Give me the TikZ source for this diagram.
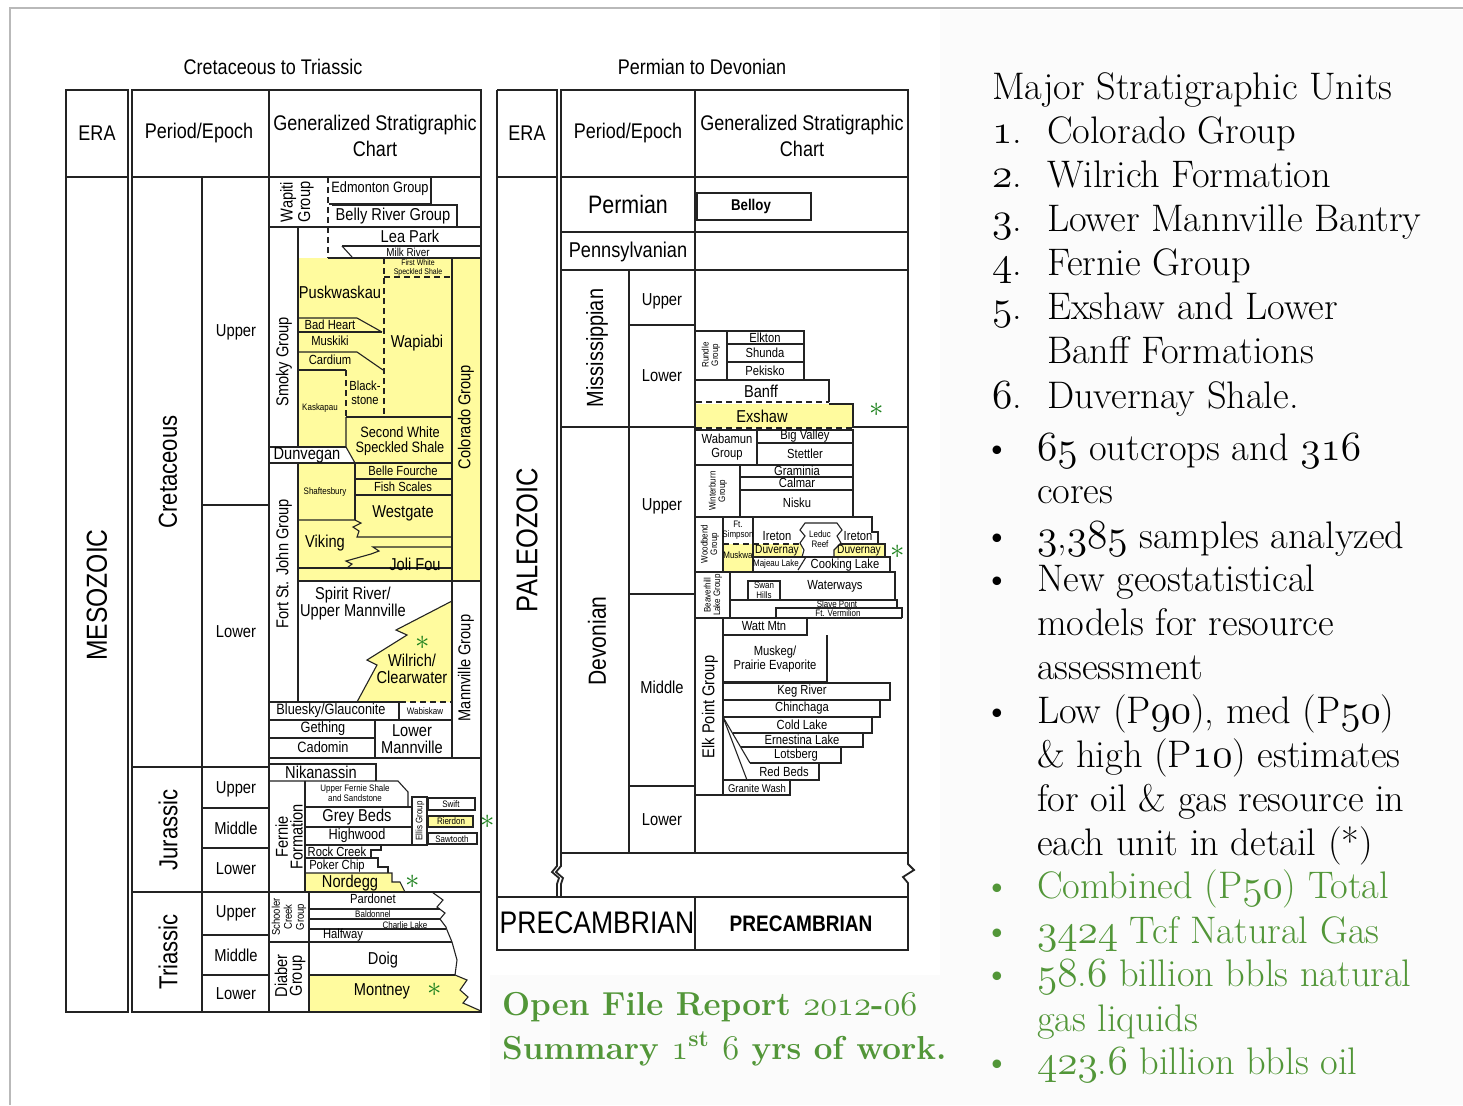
\documentclass[tikz,border=0pt]{standalone}
\usepackage{fontspec}
\newfontfamily\cf[FakeStretch=0.85]{Liberation Sans}
\definecolor{yel}{RGB}{255,251,158}
\definecolor{grn}{RGB}{82,150,56}
\definecolor{astc}{RGB}{30,130,30}
\definecolor{lnc}{RGB}{35,35,35}
\newcommand\osn[1]{{\fontencoding{OML}\fontfamily{lmm}\fontseries{m}\fontshape{it}\selectfont #1}}
\newcommand\osnb[1]{{\fontencoding{OML}\fontfamily{lmm}\fontseries{b}\fontshape{it}\selectfont #1}}
\tikzset{
 every node/.style={inner sep=0pt, outer sep=0pt},
 ln/.style={draw=lnc, line width=0.55pt},
 ob/.style={draw=lnc, line width=0.9pt},
 dsh/.style={draw=lnc, line width=0.6pt, dash pattern=on 3pt off 2pt},
 hdr/.style={font=\cf\fontsize{10.6}{13}\selectfont, align=center},
 erab/.style={font=\cf\fontsize{14.5}{16}\selectfont},
 perd/.style={font=\cf\fontsize{13}{14}\selectfont},
 epo/.style={font=\cf\fontsize{8.65}{10}\selectfont},
 lbl/.style={font=\cf\fontsize{8.6}{8.5}\selectfont, align=center},
 lbltight/.style={font=\cf\fontsize{8.6}{7.4}\selectfont, align=center},
 lblc/.style={font=\cf\fontsize{7.5}{7.6}\selectfont, align=center},
 sml/.style={font=\cf\fontsize{6.6}{6.8}\selectfont, align=center},
 smlb/.style={font=\cf\fontsize{6}{6.2}\selectfont, align=center},
 tny/.style={font=\cf\fontsize{4.7}{4.8}\selectfont, align=center},
 tnyx/.style={font=\cf\fontsize{4.1}{4.2}\selectfont, align=center},
 tnyb/.style={font=\cf\fontsize{5.6}{6}\selectfont, align=center},
 astk/.style={text=astc, font=\fontsize{15}{15}\selectfont},
 rt/.style={font=\fontsize{19.2}{22}\selectfont, anchor=base west},
 gt/.style={font=\fontsize{19.2}{22}\selectfont, anchor=base west, text=grn},
 ofr/.style={anchor=base west, text=grn, font=\bfseries\fontsize{16.6}{20}\selectfont},
}
\begin{document}
\begin{tikzpicture}[x=0.5pt,y=-0.5pt]
\useasboundingbox (0,0) rectangle (1463,1105);
\fill[white] (0,0) rectangle (1463,1105);
\fill[gray!3] (940,10) rectangle (1463,1105);
\fill[gray!3] (490,975) rectangle (940,1105);
\draw[gray!55, line width=0.6pt] (10,1105) -- (10,8) -- (1463,8);

% ================= LEFT CHART =================
\node[hdr] (tL) at (273,67) {Cretaceous to Triassic};
% yellow fills
\fill[yel] (298,258) rectangle (481,581);
\fill[white] (298,447) -- (346,447) -- (355,463) -- (298,463) -- cycle;
\fill[yel] (452,601) -- (396,630) -- (407,635) -- (367,660) -- (377,665) -- (357,702) -- (452,702) -- cycle;
\fill[yel] (305,873) -- (392,873) -- (392,882) -- (400,882) -- (405,892) -- (305,892) -- cycle;
\fill[yel] (309,975) -- (455,975) -- (467,980) -- (460,990) -- (468,997) -- (463,1003) -- (481,1011) -- (309,1011) -- cycle;

\draw[ob] (66,90) rectangle (128,1012);
\draw[ob] (132,90) rectangle (481,1012);
\draw[ln] (66,177) -- (128,177);
\draw[ln] (132,177) -- (481,177);
\draw[ln] (269,90) -- (269,1012);
\draw[ln] (202,177) -- (202,1012);
\draw[ln] (132,767) -- (269,767);
\draw[ln] (132,892) -- (481,892);
\draw[ln] (202,505) -- (269,505);
\draw[ln] (202,808) -- (269,808);
\draw[ln] (202,848) -- (269,848);
\draw[ln] (202,935) -- (269,935);
\draw[ln] (202,975) -- (269,975);
\node[hdr] (eraL) at (97,133) {ERA};
\node[hdr] (peL) at (199,133) {Period/Epoch};
\node[hdr] (gsL) at (375,136) {Generalized Stratigraphic\\Chart};
\node[erab,rotate=90] (meso) at (97,595) {MESOZOIC};
\node[perd,rotate=90] (cret) at (168,472) {Cretaceous};
\node[perd,rotate=90] (jur) at (168,830) {Jurassic};
\node[perd,rotate=90] (tri) at (168,952) {Triassic};
\node[epo] (e1) at (236,332) {Upper};
\node[epo] (e2) at (236,632) {Lower};
\node[epo] (e3) at (236,789) {Upper};
\node[epo] (e4) at (236,828) {Middle};
\node[epo] (e5) at (236,869) {Lower};
\node[epo] (e6) at (236,913) {Upper};
\node[epo] (e7) at (236,955) {Middle};
\node[epo] (e8) at (236,994) {Lower};

% generalized left: upper cretaceous
\draw[ln] (269,227) -- (481,227);
\draw[dsh] (328,177) -- (328,258);
\draw[ln] (329,204) -- (431,204) -- (431,177);
\draw[ln] (332,205) -- (457,205) -- (457,227);
\draw[ln] (298,227) -- (298,447);
\draw[ln] (342,246) -- (481,246);
\draw[ln] (342,246) -- (352,257);
\draw[ln] (328,258) -- (481,258);
\draw[dsh] (384,277) -- (452,277);
\draw[dsh] (384,258) -- (384,417);
\draw[ln] (452,258) -- (452,758);
\draw[ln] (298,318) -- (357,318) -- (382,332);
\draw[ln] (298,332) -- (382,332);
\draw[ln] (298,352) -- (357,352) -- (383,370);
\draw[ln] (298,370) -- (346,370);
\draw[dsh] (346,370) -- (346,417);
\draw[ln] (346,417) -- (452,417);
\draw[ln] (346,417) -- (346,447) -- (355,463);
\draw[ln] (270,447) -- (346,447);
\draw[ln] (270,463) -- (452,463);
\draw[ln] (355,463) -- (355,520);
\draw[ln] (355,479) -- (452,479);
\draw[ln] (355,495) -- (452,495);
\draw[ln] (298,463) -- (298,702);
\draw[ln] (298,520) -- (355,520) -- (361,523) -- (353,527) -- (359,531) -- (357,537) -- (452,537);
\draw[ln] (452,547) -- (373,547) -- (379,551) -- (371,554) -- (346,561) -- (352,564) -- (347,568);
\draw[ln] (298,568) -- (452,568);
\draw[ln] (298,581) -- (481,581);
% lower cretaceous
\draw[ln] (452,601) -- (396,630) -- (407,635) -- (367,660) -- (377,665) -- (357,702);
\draw[ln] (270,702) -- (400,702);
\draw[dsh] (400,702) -- (452,702);
\draw[ln] (399,702) -- (399,720);
\draw[ln] (270,720) -- (452,720);
\draw[ln] (270,738) -- (375,738);
\draw[ln] (375,720) -- (375,758);
\draw[ln] (270,758) -- (481,758);
% jurassic
\draw[ln] (270,764) -- (376,764) -- (376,781);
\draw[ln] (270,781) -- (398,781) -- (408,792) -- (408,807);
\draw[ln] (305,781) -- (305,892);
\draw[ln] (305,807) -- (412,807);
\draw[ln] (305,827) -- (412,827);
\draw[ln] (412,797) rectangle (427,845);
\draw[ln] (305,845) -- (412,845);
\draw[ln] (428,798) rectangle (475,810);
\filldraw[fill=yel, draw=lnc, line width=0.55pt] (428,816) rectangle (473,827);
\draw[ln] (428,833) rectangle (477,844);
\draw[ln] (381,845) -- (381,850) -- (371,850) -- (371,858);
\draw[ln] (305,858) -- (378,858) -- (378,867) -- (388,867) -- (388,873);
\draw[ln] (305,873) -- (392,873) -- (392,882) -- (400,882) -- (405,892);
% triassic
\draw[ln] (309,892) -- (309,1012);
\draw[ln] (270,942) -- (452,942);
\draw[ln] (309,909) -- (440,909);
\draw[ln] (309,919) -- (440,919);
\draw[ln] (309,929) -- (446,929);
\draw[ln] (309,975) -- (455,975);
\draw[ln] (432,892) -- (443,900) -- (437,907) -- (445,913) -- (440,919) -- (446,927) -- (447,930) -- (452,942) -- (457,960) -- (455,975) -- (467,980) -- (460,990) -- (468,997) -- (463,1003) -- (481,1011);

% left labels
\node[lbltight,rotate=90] (wap) at (297,202) {Wapiti\\Group};
\node[lblc] (edm) at (380,189) {Edmonton Group};
\node[lbl] (bel) at (393,216) {Belly River Group};
\node[lbl] (lea) at (410,236) {Lea Park};
\node[font=\cf\fontsize{5.8}{6}\selectfont] (mil) at (408,252) {Milk River};
\node[tnyx] (fws) at (418,268) {First White\\Speckled Shale};
\node[lbl] (pus) at (340,292) {Puskwaskau};
\node[sml] (bad) at (330,325) {Bad Heart};
\node[sml] (mus) at (330,341) {Muskiki};
\node[sml] (car) at (330,360) {Cardium};
\node[lbl] (wpb) at (417,343) {Wapiabi};
\node[sml] (blk) at (365,393) {Black-\\stone};
\node[tny] (kas) at (320,408) {Kaskapau};
\node[lblc] (sws) at (400,441) {Second White\\Speckled Shale};
\node[lbl] (dun) at (307,455) {Dunvegan};
\node[sml] (bf) at (403,471) {Belle Fourche};
\node[sml] (fsc) at (403,487) {Fish Scales};
\node[tny] (sha) at (325,492) {Shaftesbury};
\node[lbl] (wes) at (403,513) {Westgate};
\node[lbl] (vik) at (325,543) {Viking};
\node[lbl] (jf) at (415,564) {Joli Fou};
\node[lbl,rotate=90] (colg) at (466,417) {Colorado Group};
\node[lbl,rotate=90] (smk) at (284,362) {Smoky Group};
\node[lbl,rotate=90] (fsj) at (284,564) {Fort St. John Group};
\node[lbl] (spr) at (353,604) {Spirit River/\\Upper Mannville};
\node[astk] (a1) at (423,643) {$\ast$};
\node[lbl] (wil) at (412,669) {Wilrich/\\Clearwater};
\node[lbl,rotate=90] (man) at (466,668) {Mannville Group};
\node[lblc] (blu) at (331,711) {Bluesky/Glauconite};
\node[tny] (wab) at (425,711) {Wabiskaw};
\node[lblc] (get) at (323,729) {Gething};
\node[lblc] (cad) at (323,747) {Cadomin};
\node[lbl] (lmv) at (412,739) {Lower\\Mannville};
\node[lbl] (nik) at (321,772) {Nikanassin};
\node[lbltight,rotate=90] (fer) at (289,837) {Fernie\\Formation};
\node[tny] (ufs) at (355,793) {Upper Fernie Shale\\and Sandstone};
\node[lbl] (gb) at (357,817) {Grey Beds};
\node[lblc] (hw) at (357,836) {Highwood};
\node[tny,rotate=90] (ell) at (420,821) {Ellis Group};
\node[tny] (swi) at (451,804) {Swift};
\node[tny] (rie) at (451,821) {Rierdon};
\node[tny] (saw) at (452,839) {Sawtooth};
\node[astk] (a2) at (488,822) {$\ast$};
\node[sml] (rc) at (337,852) {Rock Creek};
\node[sml] (pch) at (337,866) {Poker Chip};
\node[lbl] (nor) at (350,883) {Nordegg};
\node[astk] (a3) at (413,882) {$\ast$};
\node[tnyb,rotate=90] (sch) at (289,917) {Schooler\\Creek\\Group};
\node[sml] (par) at (373,899) {Pardonet};
\node[tny] (bal) at (373,914) {Baldonnel};
\node[tny] (chl) at (405,925) {Charlie Lake};
\node[sml] (hal) at (343,935) {Halfway};
\node[lbltight,rotate=90] (dia) at (290,976) {Diaber\\Group};
\node[lbl] (doi) at (383,960) {Doig};
\node[lbl] (mon) at (382,991) {Montney};
\node[astk] (a4) at (435,990) {$\ast$};

% ================= RIGHT CHART =================
\node[hdr] (tR) at (702,67) {Permian to Devonian};
\fill[yel] (696,404) rectangle (853,428);
\fill[yel] (723,544) rectangle (753,572);
\fill[yel] (753,544) rectangle (802,557);
\fill[yel] (833,544) rectangle (885,557);

\draw[ob] (497,90) -- (557,90) -- (557,866) -- (552,872) -- (559,878) -- (557,884) -- (557,897);
\draw[ob] (497,90) -- (497,950) -- (908,950) -- (908,883) -- (903,877) -- (914,870) -- (908,864) -- (908,90) -- (561,90) -- (561,866) -- (556,872) -- (563,878) -- (561,884) -- (561,897);
\draw[ob] (497,897) -- (908,897);
\draw[ln] (695,897) -- (695,950);
\draw[ln] (497,177) -- (557,177);
\draw[ln] (561,177) -- (908,177);
\draw[ln] (695,90) -- (695,853);
\draw[ob] (561,232) -- (908,232);
\draw[ln] (561,270) -- (908,270);
\draw[ln] (629,270) -- (629,853);
\draw[ln] (629,325) -- (695,325);
\draw[ln] (561,427) -- (695,427);
\draw[ln] (853,427) -- (908,427);
\draw[ln] (629,594) -- (695,594);
\draw[ln] (629,786) -- (695,786);
\draw[ln] (561,853) -- (908,853);

\node[hdr] (eraR) at (527,133) {ERA};
\node[hdr] (peR) at (628,133) {Period/Epoch};
\node[hdr] (gsR) at (802,136) {Generalized Stratigraphic\\Chart};
\node[font=\cf\fontsize{15}{16}\selectfont,rotate=90] (pal) at (527,540) {PALEOZOIC};
\node[font=\cf\fontsize{12.6}{14}\selectfont] (perm) at (628,204) {Permian};
\node[font=\cf\fontsize{10.7}{12}\selectfont] (penn) at (628,252) {Pennsylvanian};
\node[font=\cf\fontsize{11.7}{13}\selectfont,rotate=90] (miss) at (597,348) {Mississippian};
\node[font=\cf\fontsize{12.4}{13}\selectfont,rotate=90] (devo) at (597,641) {Devonian};
\node[epo] (r1) at (662,301) {Upper};
\node[epo] (r2) at (662,376) {Lower};
\node[epo] (r3) at (662,506) {Upper};
\node[epo] (r4) at (662,687) {Middle};
\node[epo] (r5) at (662,820) {Lower};
\node[font=\cf\fontsize{15.6}{16}\selectfont] (pc1) at (597,923) {PRECAMBRIAN};
\node[font=\cf\fontsize{11.2}{12}\selectfont\bfseries] (pc2) at (801,924) {PRECAMBRIAN};

% generalized right
\draw[ln] (697,193) rectangle (811,220);
\node[font=\cf\fontsize{7.8}{8}\selectfont\bfseries] (bly) at (751,206) {Belloy};
\draw[ln] (696,331) -- (804,331) -- (804,380);
\draw[ln] (727,331) -- (727,380);
\draw[ln] (727,344) -- (804,344);
\draw[ln] (727,362) -- (804,362);
\draw[ln] (696,380) -- (829,380) -- (829,402);
\node[tny,rotate=90] (run) at (711,355) {Rundle\\Group};
\node[sml] (elk) at (765,338) {Elkton};
\node[sml] (shu) at (765,353) {Shunda};
\node[sml] (pek) at (765,371) {Pekisko};
\node[lbl] (ban) at (761,391) {Banff};
\draw[dsh] (696,402) -- (829,402);
\draw[ln] (829,404) -- (853,404) -- (853,428);
\draw[dsh] (696,428) -- (853,428);
\node[lbl] (exs) at (762,416) {Exshaw};
\node[astk] (a5) at (877,410) {$\ast$};
\draw[ln] (696,430) -- (853,430) -- (853,517);
\draw[ln] (757,430) -- (757,465);
\draw[ln] (757,443) -- (853,443);
\draw[ln] (696,465) -- (853,465);
\draw[ln] (740,465) -- (740,517);
\draw[ln] (740,477) -- (853,477);
\draw[ln] (740,490) -- (853,490);
\node[sml] (wbm) at (727,447) {Wabamun\\Group};
\node[sml] (bv) at (805,436) {Big Valley};
\node[sml] (stt) at (805,454) {Stettler};
\node[tny,rotate=90] (win) at (718,491) {Winterburn\\Group};
\node[sml] (gra) at (797,471) {Graminia};
\node[sml] (cal) at (797,483) {Calmar};
\node[sml] (nis) at (797,503) {Nisku};
\draw[ln] (696,517) -- (872,517) -- (872,532) -- (878,532) -- (878,544);
\draw[ln] (723,517) -- (723,572);
\draw[ln] (753,517) -- (753,572);
\draw[dsh] (723,544) -- (802,544);
\draw[ln] (833,544) -- (885,544) -- (885,557);
\filldraw[fill=white, draw=lnc, line width=0.55pt] (805,523) -- (837,523) -- (842,530) -- (837,536) -- (841,543) -- (834,550) -- (834,557) -- (802,557) -- (804,550) -- (800,543) -- (805,536) -- (800,530) -- cycle;
\draw[ln] (753,557) -- (890,557) -- (890,572);
\draw[ln] (798,570) -- (806,557);
\draw[ln] (696,572) -- (895,572) -- (895,600);
\node[tny,rotate=90] (woo) at (710,544) {Woodbend\\Group};
\node[tny] (fts) at (738,530) {Ft.\\Simpson};
\node[tny] (msk) at (738,555) {Muskwa};
\node[sml] (ir1) at (777,536) {Ireton};
\node[tny] (led) at (820,539) {Leduc\\Reef};
\node[sml] (ir2) at (858,536) {Ireton};
\node[smlb] (du1) at (777,551) {Duvernay};
\node[smlb] (du2) at (859,551) {Duvernay};
\node[astk] (a6) at (898,552) {$\ast$};
\node[tny] (maj) at (776,564) {Majeau Lake};
\node[sml] (ckl) at (845,565) {Cooking Lake};
\draw[ln] (730,572) -- (730,618);
\node[tny,rotate=90] (bvh) at (713,595) {Beaverhill\\Lake Group};
\draw[ln] (748,600) -- (748,581) -- (780,581) -- (780,600);
\node[tny] (swh) at (764,590) {Swan\\Hills};
\node[sml] (wat) at (835,586) {Waterways};
\draw[ln] (730,600) -- (897,600) -- (897,608);
\node[tny] (slp) at (837,604) {Slave Point};
\draw[ln] (776,617) -- (776,608) -- (902,608) -- (902,618);
\node[tny] (ftv) at (838,613) {Ft. Vermilion};
\draw[ln] (696,618) -- (902,618);
\draw[ln] (723,618) -- (723,795);
\node[lbl,rotate=90] (elkp) at (710,707) {Elk Point Group};
\draw[ln] (723,635) -- (807,635) -- (807,618);
\node[sml] (wm) at (764,626) {Watt Mtn};
\draw[ln] (723,682) -- (827,682) -- (827,635);
\node[sml] (mpe) at (775,659) {Muskeg/\\Prairie Evaporite};
\draw[ln] (723,683) -- (890,683) -- (890,700) -- (723,700);
\node[sml] (kr) at (802,691) {Keg River};
\draw[ln] (880,700) -- (880,717) -- (723,717);
\node[sml] (chi) at (802,708) {Chinchaga};
\draw[ln] (872,717) -- (872,733) -- (733,733);
\node[sml] (cld) at (802,725) {Cold Lake};
\draw[ln] (863,733) -- (863,747) -- (741,747);
\node[sml] (ern) at (802,740) {Ernestina Lake};
\draw[ln] (841,747) -- (841,763) -- (750,763);
\node[sml] (lot) at (796,755) {Lotsberg};
\draw[ln] (819,763) -- (819,780) -- (723,780);
\node[sml] (rbd) at (784,772) {Red Beds};
\draw[ln] (723,717) -- (750,763);
\draw[ln] (723,717) -- (747,780);
\draw[ln] (790,780) -- (790,795) -- (696,795);
\node[tnyb] (gw) at (757,788) {Granite Wash};

% ================= TEXT =================
\node[ofr] (of1) at (502,1015) {Open File Report \osnb{2012}-\osnb{06}};
\node[ofr] (of2) at (502,1059) {Summary \osnb{1}\textsuperscript{st} \osnb{6} yrs of work.};

\node[rt] (mh) at (992,99) {Major Stratigraphic Units};
\node[rt] (m1n) at (992,143) {\osn{1}.};
\node[rt] (m1) at (1047,143) {Colorado Group};
\node[rt] (m2n) at (992,187) {\osn{2}.};
\node[rt] (m2) at (1047,187) {Wilrich Formation};
\node[rt] (m3n) at (992,231) {\osn{3}.};
\node[rt] (m3) at (1047,231) {Lower Mannville Bantry};
\node[rt] (m4n) at (992,275) {\osn{4}.};
\node[rt] (m4) at (1047,275) {Fernie Group};
\node[rt] (m5n) at (992,319) {\osn{5}.};
\node[rt] (m5) at (1047,319) {Exshaw and Lower};
\node[rt] (m5b) at (1047,363) {Banff Formations};
\node[rt] (m6n) at (992,408) {\osn{6}.};
\node[rt] (m6) at (1047,408) {Duvernay Shale.};

\node[rt,anchor=base] (bu1) at (997,460) {\textbullet};
\node[rt] (b1a) at (1037,460) {\osn{65} outcrops and \osn{316}};
\node[rt] (b1b) at (1037,503) {cores};
\node[rt,anchor=base] (bu2) at (997,548) {\textbullet};
\node[rt] (b2) at (1037,548) {\osn{3},\osn{385} samples analyzed};
\node[rt,anchor=base] (bu3) at (997,591) {\textbullet};
\node[rt] (b3a) at (1037,591) {New geostatistical};
\node[rt] (b3b) at (1037,635) {models for resource};
\node[rt] (b3c) at (1037,679) {assessment};
\node[rt,anchor=base] (bu4) at (997,723) {\textbullet};
\node[rt] (b4a) at (1037,723) {Low (P\osn{90}), med (P\osn{50})};
\node[rt] (b4b) at (1037,767) {\& high (P\osn{10}) estimates};
\node[rt] (b4c) at (1037,811) {for oil \& gas resource in};
\node[rt] (b4d) at (1037,855) {each unit in detail (*)};
\node[gt,anchor=base] (bu5) at (997,898) {\textbullet};
\node[gt] (b5) at (1037,898) {Combined (P\osn{50}) Total};
\node[gt,anchor=base] (bu6) at (997,943) {\textbullet};
\node[gt] (b6) at (1037,943) {\osn{3424} Tcf Natural Gas};
\node[gt,anchor=base] (bu7) at (997,986) {\textbullet};
\node[gt] (b7a) at (1037,986) {\osn{58}.\osn{6} billion bbls natural};
\node[gt] (b7b) at (1037,1031) {gas liquids};
\node[gt,anchor=base] (bu8) at (997,1074) {\textbullet};
\node[gt] (b8) at (1037,1074) {\osn{423}.\osn{6} billion bbls oil};
\end{tikzpicture}
\end{document}
